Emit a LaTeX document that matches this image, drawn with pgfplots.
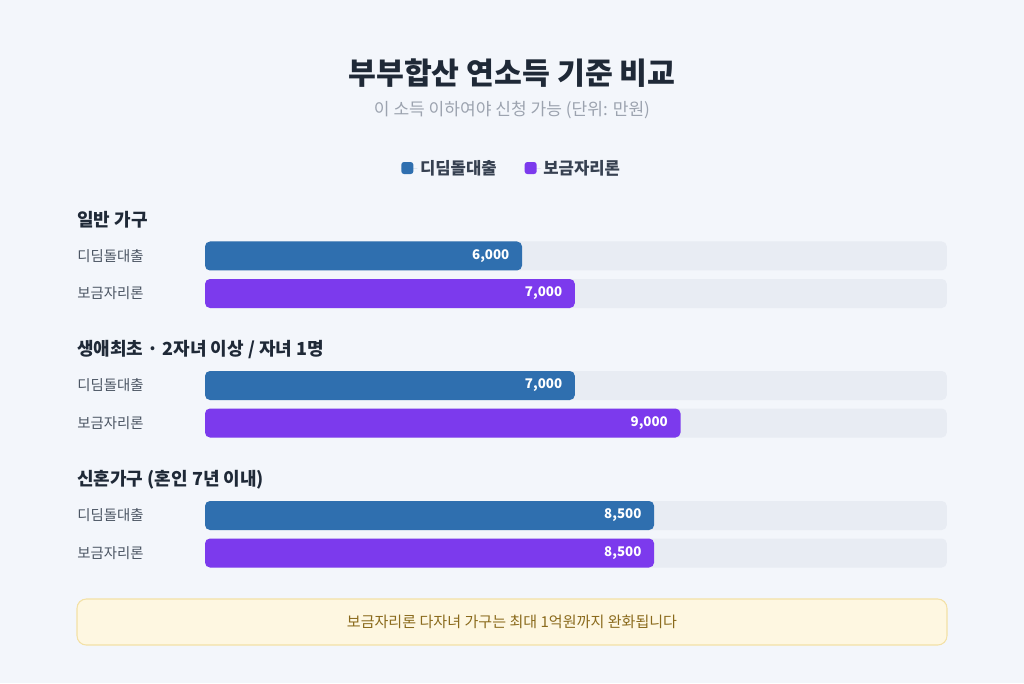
\documentclass[border=0pt]{standalone}
\usepackage{fontspec}
\setmainfont{Noto Sans CJK KR}
\usepackage{pgfplots}
\pgfplotsset{compat=1.18}

\definecolor{bg}{HTML}{F3F6FB}
\definecolor{track}{HTML}{E8ECF3}
\definecolor{blue}{HTML}{2F6FAF}
\definecolor{purple}{HTML}{7C3AED}
\definecolor{titlec}{HTML}{1F2937}
\definecolor{subc}{HTML}{9CA3AF}
\definecolor{labc}{HTML}{4B5563}
\definecolor{legc}{HTML}{374151}
\definecolor{notefill}{HTML}{FEF7E1}
\definecolor{notedraw}{HTML}{F3E1A6}
\definecolor{notetext}{HTML}{8A6A1C}

% y = 683 - pixel row of the bar centre
\pgfplotstableread{
y    v
427  6000
297.5  7000
167.5  8500
}\didim
\pgfplotstableread{
y    v
389.5  7000
260  9000
130  8500
}\bogeum
\pgfplotstableread{
y    v
427  14040
389.5  14040
297.5  14040
260  14040
167.5  14040
130  14040
}\tracks

\begin{document}
\begin{tikzpicture}
\begin{axis}[
  scale only axis,
  width=768pt, height=512.25pt,
  xmin=-3880, xmax=15501,
  ymin=0, ymax=683,
  clip=false,
  axis background/.style={fill=bg},
  axis line style={draw=none},
  tick style={draw=none},
  xtick=\empty,
  ytick={130,167.5,260,297.5,389.5,427},
  yticklabels={보금자리론,디딤돌대출,보금자리론,디딤돌대출,보금자리론,디딤돌대출},
  yticklabel style={anchor=west, inner sep=0pt, xshift=57.75pt,
    font=\fontsize{10.8}{13}\selectfont, text=labc},
  /pgf/number format/.cd, fixed, precision=0, 1000 sep={,}, assume math mode=true,
  /pgfplots/.cd,
  legend style={at={(axis description cs:0.5,0.754)}, anchor=center,
    draw=none, fill=none, font=\bfseries\fontsize{12.5}{15}\selectfont,
    text=legc, legend columns=2,
    /tikz/every even column/.append style={column sep=19pt}},
  legend cell align=left,
]
\addplot[xbar, bar shift=0pt, bar width=21.75pt, fill=track, draw=none,
  rounded corners=3.75pt, forget plot] table[x=v, y=y] {\tracks};
\addplot[xbar, bar shift=0pt, bar width=21.75pt, fill=blue, draw=none,
  rounded corners=3.75pt, point meta=x, nodes near coords,
  every node near coord/.append style={anchor=east, xshift=-6pt, text=white,
    font=\bfseries\fontsize{10}{12}\selectfont},
  legend image code/.code={\fill[blue, rounded corners=2pt] (0pt,-4.5pt) rectangle (9pt,4.5pt);
    \path (0pt,0pt) -- (12pt,0pt);}]
  table[x=v, y=y] {\didim};
\addplot[xbar, bar shift=0pt, bar width=21.75pt, fill=purple, draw=none,
  rounded corners=3.75pt, point meta=x, nodes near coords,
  every node near coord/.append style={anchor=east, xshift=-6pt, text=white,
    font=\bfseries\fontsize{10}{12}\selectfont},
  legend image code/.code={\fill[purple, rounded corners=2pt] (0pt,-4.5pt) rectangle (9pt,4.5pt);
    \path (0pt,0pt) -- (12pt,0pt);}]
  table[x=v, y=y] {\bogeum};
\legend{디딤돌대출, 보금자리론}

% titles
\node[font=\bfseries\fontsize{22.7}{26}\selectfont, text=titlec]
  at (axis description cs:0.5,0.893) {부부합산 연소득 기준 비교};
\node[font=\fontsize{12.8}{15}\selectfont, text=subc]
  at (axis description cs:0.5,0.839) {이 소득 이하여야 신청 가능 (단위: 만원)};

% group headings
\node[anchor=west, inner sep=0pt, font=\bfseries\fontsize{13.5}{16}\selectfont, text=titlec]
  at (axis description cs:0.0752,0.678) {일반 가구};
\node[anchor=west, inner sep=0pt, font=\bfseries\fontsize{13.5}{16}\selectfont, text=titlec]
  at (axis description cs:0.0752,0.488) {생애최초 · 2자녀 이상 / 자녀 1명};
\node[anchor=west, inner sep=0pt, font=\bfseries\fontsize{13.5}{16}\selectfont, text=titlec]
  at (axis description cs:0.0752,0.297) {신혼가구 (혼인 7년 이내)};

% note box
\draw[notedraw, fill=notefill, rounded corners=7pt, line width=0.8pt]
  (axis description cs:0.0752,0.1230) rectangle (axis description cs:0.9248,0.0556);
\node[font=\fontsize{11.3}{13}\selectfont, text=notetext]
  at (axis description cs:0.5,0.0893) {보금자리론 다자녀 가구는 최대 1억원까지 완화됩니다};
\end{axis}
\end{tikzpicture}
\end{document}
